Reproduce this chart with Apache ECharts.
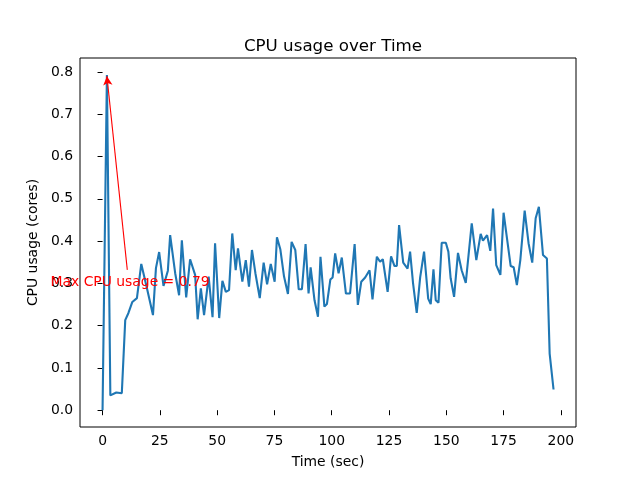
<!DOCTYPE html>
<html>
<head>
<meta charset="utf-8">
<script src="https://cdn.jsdelivr.net/npm/echarts@6/dist/echarts.min.js"></script>
<style>html,body{margin:0;padding:0;background:#fff;}#c{width:640px;height:480px;}</style>
</head>
<body>
<div id="c"></div>
<script>
const times = [0, 1.9, 3.4, 6, 8.4, 9.9, 11.3, 13, 15, 16.9,
  19.3, 22, 23.3, 24.7, 26.6, 28.5, 29.5, 31.7, 33.4, 34.6,
  36.5, 38.2, 40.4, 41.5, 42.9, 44.3, 46.3, 48, 49.1, 50.9,
  52.3, 53.8, 55.2, 56.6, 58.1, 59.1, 61, 62.5, 63.9, 65.2,
  66.7, 68.6, 70.3, 71.8, 73.4, 75.1, 76.1, 77.6, 79.2, 80.9,
  82.5, 84.1, 85.6, 87, 88.6, 89.9, 90.8, 92.5, 94, 95.1,
  96.8, 97.9, 99.4, 100.4, 101.5, 103, 104.4, 106.2, 108, 110,
  111.4, 112.9, 114.6, 116.5, 117.8, 119.7, 121.1, 122.3, 124.4, 125.9,
  127.4, 128.4, 129.4, 131.2, 133.1, 134.2, 135.5, 137.1, 138.6, 140.3,
  142.1, 143.2, 144.4, 145.4, 146.6, 148, 149.8, 150.9, 151.9, 153.4,
  155.1, 156.7, 158.5, 161.1, 163.1, 165, 166, 167.8, 169.2, 170.4,
  171.8, 173.6, 175, 176.5, 178.1, 179.4, 180.8, 182.3, 184.2, 185.9,
  187.5, 189, 190.4, 192.2, 193.9, 195.1, 196.8];
const cpu = [0, 0.793, 0.035, 0.042, 0.04, 0.213, 0.23, 0.256, 0.265, 0.346,
  0.29, 0.225, 0.336, 0.374, 0.294, 0.33, 0.414, 0.324, 0.272, 0.402,
  0.267, 0.357, 0.32, 0.215, 0.288, 0.225, 0.316, 0.22, 0.395, 0.218,
  0.306, 0.28, 0.284, 0.418, 0.331, 0.383, 0.304, 0.355, 0.292, 0.379,
  0.324, 0.265, 0.349, 0.298, 0.346, 0.304, 0.409, 0.38, 0.316, 0.275,
  0.398, 0.379, 0.286, 0.286, 0.393, 0.276, 0.338, 0.26, 0.221, 0.363,
  0.245, 0.251, 0.309, 0.314, 0.371, 0.324, 0.361, 0.276, 0.276, 0.393,
  0.249, 0.304, 0.314, 0.331, 0.262, 0.363, 0.351, 0.357, 0.28, 0.364,
  0.341, 0.341, 0.438, 0.349, 0.335, 0.375, 0.3, 0.23, 0.314, 0.375,
  0.264, 0.251, 0.333, 0.26, 0.254, 0.396, 0.396, 0.375, 0.312, 0.268,
  0.372, 0.331, 0.301, 0.442, 0.355, 0.417, 0.401, 0.414, 0.377, 0.477,
  0.343, 0.32, 0.467, 0.406, 0.341, 0.338, 0.296, 0.355, 0.472, 0.395,
  0.349, 0.454, 0.481, 0.367, 0.359, 0.134, 0.049];
const xTicks = [0, 25, 50, 75, 100, 125, 150, 175, 200];
const yTicks = [0, 0.1, 0.2, 0.3, 0.4, 0.5, 0.6, 0.7, 0.8];
const annText = 'Max CPU usage = 0.79';
const annTextPos = [12, 0.29];
const annArrowStart = [10.8, 0.332];
const annArrowEnd = [1.9, 0.79];

const font = 'DejaVu Sans';
const chart = echarts.init(document.getElementById('c'), null, {renderer: 'canvas'});
const seriesData = times.map((t, i) => [t, cpu[i]]);
chart.setOption({
  animation: false,
  backgroundColor: '#ffffff',
  title: {
    text: 'CPU usage over Time',
    left: 328, top: 33, textAlign: 'center',
    textStyle: {fontFamily: font, fontSize: 16.7, fontWeight: 'normal', color: '#000'}
  },
  grid: {left: 80, right: 64, top: 58, bottom: 53, show: true, borderColor: '#000', borderWidth: 1, backgroundColor: 'transparent'},
  xAxis: {
    type: 'value', min: -9.84, max: 206.6,
    name: 'Time (sec)', nameLocation: 'middle', nameGap: 28,
    nameTextStyle: {fontFamily: font, fontSize: 13.9, color: '#000'},
    axisLine: {show: false},
    splitLine: {show: false},
    axisTick: {show: true, inside: false, length: 5, lineStyle: {color: '#000'}, customValues: xTicks},
    axisLabel: {fontFamily: font, fontSize: 13.9, color: '#000', margin: 7, customValues: xTicks, formatter: v => String(v)}
  },
  yAxis: {
    type: 'value', min: -0.0397, max: 0.833,
    name: 'CPU usage (cores)', nameLocation: 'middle', nameGap: 38, nameRotate: 90,
    nameTextStyle: {fontFamily: font, fontSize: 13.9, color: '#000'},
    axisLine: {show: false},
    splitLine: {show: false},
    axisTick: {show: true, inside: false, length: 5, lineStyle: {color: '#000'}, customValues: yTicks},
    axisLabel: {fontFamily: font, fontSize: 13.9, color: '#000', margin: 7, customValues: yTicks, formatter: v => v.toFixed(1)}
  },
  series: [{
    type: 'line',
    data: seriesData,
    showSymbol: false,
    symbol: 'none',
    lineStyle: {color: '#1f77b4', width: 2.1},
    z: 2,
    markLine: {
      silent: true,
      symbol: ['none', 'arrow'],
      symbolSize: [7, 9],
      label: {show: false},
      lineStyle: {color: '#ff0000', width: 1.1, type: 'solid'},
      data: [[{coord: annArrowStart}, {coord: annArrowEnd}]],
      z: 5
    },
    markPoint: {
      silent: true,
      symbol: 'circle',
      symbolSize: 0,
      data: [{coord: annTextPos, value: annText}],
      label: {
        show: true, position: 'inside', formatter: annText,
        fontFamily: font, fontSize: 13.9, color: '#ff0000',
        align: 'center', verticalAlign: 'middle', offset: [0, -5]
      },
      z: 6
    }
  }]
});
</script>
</body>
</html>
